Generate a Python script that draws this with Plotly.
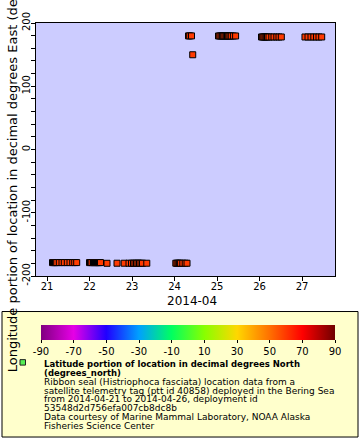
import plotly.graph_objects as go

# ---------------- data ----------------
times = [
    # 2014-04-21 group (west of dateline)
    "2014-04-21 03:06", "2014-04-21 03:40", "2014-04-21 04:14", "2014-04-21 04:48",
    "2014-04-21 05:29", "2014-04-21 06:57", "2014-04-21 08:28", "2014-04-21 09:46",
    "2014-04-21 11:28", "2014-04-21 12:59", "2014-04-21 14:31", "2014-04-21 15:39",
    "2014-04-21 16:46",
    # 2014-04-22
    "2014-04-22 00:00", "2014-04-22 00:34", "2014-04-22 01:18", "2014-04-22 02:15",
    "2014-04-22 02:49", "2014-04-22 03:23", "2014-04-22 03:57", "2014-04-22 04:31",
    "2014-04-22 05:05", "2014-04-22 05:39", "2014-04-22 06:13",
    "2014-04-22 09:53", "2014-04-22 15:32",
    "2014-04-22 19:35", "2014-04-22 22:18", "2014-04-22 23:43",
    # 2014-04-23
    "2014-04-23 00:51", "2014-04-23 01:41", "2014-04-23 02:32", "2014-04-23 03:23",
    "2014-04-23 04:14", "2014-04-23 05:05", "2014-04-23 05:56", "2014-04-23 08:21",
    # 2014-04-24
    "2014-04-24 00:44", "2014-04-24 01:25", "2014-04-24 02:05", "2014-04-24 02:46",
    "2014-04-24 03:26", "2014-04-24 04:41", "2014-04-24 06:03", "2014-04-24 07:04",
    "2014-04-24 07:55", "2014-04-24 08:35", "2014-04-24 09:36", "2014-04-24 10:17",
    # 2014-04-25
    "2014-04-25 00:51", "2014-04-25 01:35", "2014-04-25 02:19", "2014-04-25 03:03",
    "2014-04-25 03:47", "2014-04-25 04:31", "2014-04-25 05:15", "2014-04-25 05:56",
    "2014-04-25 06:37", "2014-04-25 07:20", "2014-04-25 08:04", "2014-04-25 09:16",
    "2014-04-25 10:30",
    # 2014-04-26
    "2014-04-26 01:08", "2014-04-26 01:48", "2014-04-26 02:29", "2014-04-26 03:10",
    "2014-04-26 03:50", "2014-04-26 04:31", "2014-04-26 05:22", "2014-04-26 06:56",
    "2014-04-26 08:11", "2014-04-26 09:46", "2014-04-26 11:01", "2014-04-26 12:19",
    # 2014-04-27
    "2014-04-27 01:41", "2014-04-27 03:23", "2014-04-27 05:05", "2014-04-27 06:40",
    "2014-04-27 08:11", "2014-04-27 09:36", "2014-04-27 11:07",
]

longitude = (
    [-178.8] * 13
    + [-178.8] * 11
    + [-179.9, -179.8]
    + [-179.8] * 3
    + [-179.8] * 8
    + [-179.8] * 8
    + [179.6, 179.6, 179.6, 149.8]
    + [179.5] * 13
    + [177.9] * 12
    + [177.9] * 7
)

latitude = (
    [59.6, 59.6, 59.5, 59.5, 59.5, 59.4, 59.4, 59.4, 59.3, 59.3, 59.3, 59.3, 59.2]
    + [59.4] * 11
    + [59.5, 59.5]
    + [59.6] * 3
    + [59.6] * 8
    + [59.7] * 8
    + [59.8, 59.8, 59.8, 59.8]
    + [59.9] * 13
    + [60.0] * 12
    + [60.1] * 7
)

cbar_ticks = [-90, -70, -50, -30, -10, 10, 30, 50, 70, 90]
y_ticks = [-200, -100, 0, 100, 200]

legend_bold = [
    "Latitude portion of location in decimal degrees North",
    "(degrees_north)",
]
legend_lines = [
    "Ribbon seal (Histriophoca fasciata) location data from a",
    "satellite telemetry tag (ptt id 40858) deployed in the Bering Sea",
    "from 2014-04-21 to 2014-04-26, deployment id",
    "53548d2d756efa007cb8dc8b",
    "Data courtesy of Marine Mammal Laboratory, NOAA Alaska",
    "Fisheries Science Center",
]

# ---------------- styling / layout ----------------
W, H = 360, 440
L, R, T, B = 36, 335, 20.7, 275.7   # plot area in px


def px_x(x):
    return (x - L) / (R - L)


def px_y(y):
    return (B - y) / (B - T)


rainbow = [
    [0.000, "#800080"],
    [0.111, "#E600E6"],
    [0.222, "#2000FF"],
    [0.333, "#00A0FF"],
    [0.444, "#00FF60"],
    [0.556, "#88FF00"],
    [0.667, "#FFD700"],
    [0.778, "#FF7000"],
    [0.889, "#FF0000"],
    [1.000, "#700000"],
]

FONT = "DejaVu Sans"

fig = go.Figure()
fig.add_trace(go.Scatter(
    x=times, y=longitude, mode="markers",
    marker=dict(
        symbol="square", size=6,
        color=latitude, colorscale=rainbow, cmin=-90, cmax=90,
        line=dict(color="black", width=1),
        colorbar=dict(
            orientation="h",
            x=px_x(188), xanchor="center",
            y=px_y(325.5), yanchor="top",
            len=294, lenmode="pixels",
            thickness=15, thicknessmode="pixels",
            xpad=0, ypad=0,
            outlinewidth=0,
            tickvals=cbar_ticks,
            ticktext=[str(v) for v in cbar_ticks],
            ticks="outside", ticklen=3, tickcolor="black",
            tickfont=dict(family=FONT, size=10, color="black"),
        ),
    ),
    showlegend=False,
    hoverinfo="x+y",
))

shapes = [
    # legend box
    dict(type="rect", xref="paper", yref="paper",
         x0=px_x(2), x1=px_x(358), y0=px_y(438), y1=px_y(311.5),
         fillcolor="#FFFFCC", line=dict(color="black", width=1), layer="below"),
    # legend marker
    dict(type="rect", xref="paper", yref="paper",
         x0=px_x(20), x1=px_x(25.5), y0=px_y(365.5), y1=px_y(360),
         fillcolor="#55EE55", line=dict(color="#222222", width=1), layer="above"),
]

annotations = [
    dict(text="Longitude portion of location in decimal degrees East (degrees_east)",
         xref="paper", yref="paper", x=px_x(12), y=px_y(147),
         xanchor="center", yanchor="middle", textangle=-90, showarrow=False,
         font=dict(family=FONT, size=13, color="black")),
    dict(text="2014-04", xref="paper", yref="paper", x=px_x(191.5), y=px_y(301),
         xanchor="center", yanchor="middle", showarrow=False,
         font=dict(family=FONT, size=12, color="black")),
]

base0, step = 366.0, 8.9
for i, t in enumerate(legend_bold + legend_lines):
    bold = i < len(legend_bold)
    txt = "<b>%s</b>" % t if bold else t
    annotations.append(dict(
        text=txt, xref="paper", yref="paper",
        x=px_x(41.5), y=px_y(base0 + step * i - 1.5),
        xanchor="left", yanchor="middle", showarrow=False,
        font=dict(family=FONT, size=8.5 if bold else 9.0, color="black"),
    ))

fig.update_layout(
    width=W, height=H, autosize=False,
    margin=dict(l=L, r=W - R, t=T, b=H - B, pad=0),
    paper_bgcolor="white", plot_bgcolor="#CCCCFF",
    font=dict(family=FONT, size=10, color="black"),
    xaxis=dict(
        type="date",
        range=["2014-04-20 17:47", "2014-04-27 18:38"],
        tick0="2014-04-21", dtick=86400000, tickformat="%d",
        ticks="outside", ticklen=4, tickcolor="black",
        ticklabelstandoff=-3,
        showline=True, linecolor="black", linewidth=1, mirror=True,
        showgrid=False, zeroline=False,
        tickfont=dict(family=FONT, size=10, color="black"),
    ),
    yaxis=dict(
        range=[-200, 200],
        tickvals=y_ticks, ticktext=[str(v) for v in y_ticks],
        ticks="outside", ticklen=4, tickcolor="black", tickangle=-90,
        ticklabelstandoff=-3,
        minor=dict(dtick=20, ticks="outside", ticklen=4, tickcolor="black", showgrid=False),
        showline=True, linecolor="black", linewidth=1, mirror=True,
        showgrid=False, zeroline=False,
        tickfont=dict(family=FONT, size=10, color="black"),
    ),
    shapes=shapes,
    annotations=annotations,
)

fig.write_html(
    "out.html",
    config={"displayModeBar": False},
    post_script="document.body.style.margin='0';document.body.style.overflow='hidden';",
)
